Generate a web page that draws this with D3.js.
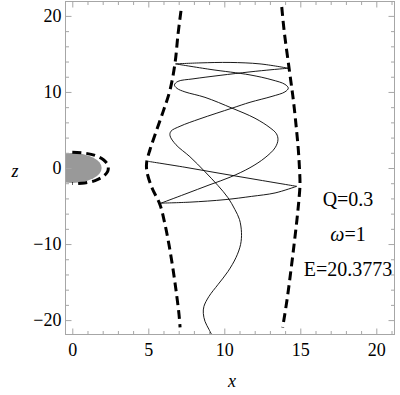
<!DOCTYPE html>
<html>
<head>
<meta charset="utf-8">
<script src="https://cdn.jsdelivr.net/npm/d3@7"></script>
<style>
body { margin: 0; background: #fff; }
svg text { font-family: "Liberation Serif", "DejaVu Serif", serif; fill: #000; }
</style>
</head>
<body>
<div id="chart"></div>
<script>
// tick values
var xMajor = [0, 5, 10, 15, 20];
var xMinor = [1, 2, 3, 4, 6, 7, 8, 9, 11, 12, 13, 14, 16, 17, 18, 19, 21];
var zMajor = [-20, -10, 0, 10, 20];
var zMinor = [-18, -16, -14, -12, -8, -6, -4, -2, 2, 4, 6, 8, 12, 14, 16, 18];

// horizon (grey) radii, x and z
var horizonR = [1.93, 1.97];

// dashed closed curve around the horizon
var innerCurve = [[0.0, 2.07], [0.8, 1.96], [1.5, 1.65], [2.05, 1.08], [2.33, 0.45], [2.37, 0.0],
  [2.33, -0.45], [2.05, -1.08], [1.5, -1.65], [0.8, -1.96], [0.0, -2.05]];

// zero velocity curves
var leftCurve = [[7.15, 20.66], [6.95, 17.5], [6.76, 13.82], [6.43, 10.27], [5.97, 7.38], [5.51, 4.76],
  [5.11, 2.4], [4.89, 0.7], [4.91, -0.49], [5.24, -2.59], [5.77, -4.82], [6.1, -7.44], [6.36, -10.07],
  [6.63, -13.35], [6.86, -16.63], [7.02, -19.25], [7.09, -20.95]];
var rightCurve = [[13.78, 21.17], [13.93, 18.15], [14.26, 13.14], [14.54, 8.96], [14.75, 5.03],
  [14.87, 2.4], [14.95, -0.22], [14.98, -2.19], [14.91, -4.16], [14.78, -6.78], [14.59, -10.07],
  [14.39, -13.35], [14.13, -17.29], [13.84, -20.96]];

// particle orbit
var orbit = [[5.0, 0.87], [7.41, 0.1], [9.85, -0.75], [12.35, -1.6], [14.76, -2.41],
  [13.34, -3.28], [11.8, -3.73], [10.05, -4.16], [7.74, -4.49], [5.84, -4.62],
  [7.41, -3.44], [9.06, -2.19], [10.38, -1.21], [11.69, 0.04], [12.68, 1.35], [13.34, 2.66],
  [13.53, 3.71], [13.43, 4.5], [13.01, 5.29], [12.02, 6.54], [10.51, 7.87], [8.73, 9.29],
  [7.41, 10.01], [6.89, 10.47], [6.72, 10.93], [6.95, 11.39], [7.94, 11.72], [9.72, 12.18],
  [11.69, 12.64], [13.14, 12.93], [14.21, 13.12],
  [12.35, 13.69], [10.38, 13.88], [8.4, 13.82], [6.79, 13.69],
  [9.06, 12.97], [11.69, 12.24], [13.14, 11.59], [13.99, 11.0], [14.21, 10.5], [13.99, 10.01],
  [13.14, 9.42], [11.69, 8.64], [10.51, 7.87], [8.4, 6.47], [7.09, 5.49], [6.49, 4.83],
  [6.43, 4.24], [6.82, 3.06], [7.74, 1.48], [8.73, -0.49], [9.59, -2.32], [10.24, -3.9],
  [10.7, -5.47], [11.0, -6.78], [11.13, -8.49], [11.07, -10.07], [10.77, -11.77], [10.24, -13.61],
  [9.59, -15.31], [8.99, -16.89], [8.66, -18.2], [8.62, -19.12], [8.73, -20.17], [8.99, -21.22],
  [9.26, -22.27]];
var orbitCusps = [4, 9, 30, 34];

var labels = ["Q=0.3", "\u03c9=1", "E=20.3773"];

var width = 400, height = 395;
var pLeft = 65, pRight = 395, pTop = 1, pBottom = 335;

var svg = d3.select("#chart").append("svg")
    .attr("width", width)
    .attr("height", height);

var x = d3.scaleLinear().domain([-0.48, 21.23]).range([pLeft, pRight]);
var y = d3.scaleLinear().domain([-21.96, 21.96]).range([pBottom, pTop]);

svg.append("clipPath").attr("id", "clip")
  .append("rect")
    .attr("x", pLeft).attr("y", pTop)
    .attr("width", pRight - pLeft).attr("height", pBottom - pTop);

var plot = svg.append("g").attr("clip-path", "url(#clip)");

// grey horizon
plot.append("ellipse")
    .attr("cx", x(0)).attr("cy", y(0))
    .attr("rx", x(horizonR[0]) - x(0))
    .attr("ry", y(0) - y(horizonR[1]))
    .attr("fill", "#999999");

var line = d3.line()
    .x(function (d) { return x(d[0]); })
    .y(function (d) { return y(d[1]); })
    .curve(d3.curveCatmullRom.alpha(0.5));

function dashed(data) {
  plot.append("path")
      .attr("d", line(data))
      .attr("fill", "none")
      .attr("stroke", "#000")
      .attr("stroke-width", 3)
      .attr("stroke-dasharray", "9,5");
}
dashed(innerCurve);
dashed(leftCurve);
dashed(rightCurve);

// orbit, split at the turning points
var cuts = [0].concat(orbitCusps, [orbit.length - 1]);
for (var i = 0; i < cuts.length - 1; i++) {
  plot.append("path")
      .attr("d", line(orbit.slice(cuts[i], cuts[i + 1] + 1)))
      .attr("fill", "none")
      .attr("stroke", "#000")
      .attr("stroke-width", 0.9);
}

// frame
svg.append("rect")
    .attr("x", pLeft + 0.5).attr("y", pTop + 0.5)
    .attr("width", pRight - pLeft - 1).attr("height", pBottom - pTop - 1)
    .attr("fill", "none")
    .attr("stroke", "#a6a6a6");

function ticks(axis, tx, ty, vals, size, pad, showLabels) {
  var g = svg.append("g")
      .attr("transform", "translate(" + tx + "," + ty + ")")
      .call(axis.tickValues(vals).tickSize(-size).tickPadding(pad)
        .tickFormat(showLabels ? function (d) { return d < 0 ? "\u2212" + Math.abs(d) : d; } : ""));
  g.select(".domain").remove();
  g.selectAll(".tick line").attr("stroke", "#a6a6a6");
  g.selectAll("text")
      .style("font-size", "18px")
      .style("font-family", "'Liberation Serif', serif")
      .attr("fill", "#000");
  return g;
}

ticks(d3.axisBottom(x), 0, pBottom - 0.5, xMajor, 6, 9, true);
ticks(d3.axisBottom(x), 0, pBottom - 0.5, xMinor, 3.5, 9, false);
ticks(d3.axisTop(x), 0, pTop + 0.5, xMajor, 6, 3, false);
ticks(d3.axisTop(x), 0, pTop + 0.5, xMinor, 3.5, 3, false);
ticks(d3.axisLeft(y), pLeft + 0.5, 0, zMajor, 6, 4, true);
ticks(d3.axisLeft(y), pLeft + 0.5, 0, zMinor, 3.5, 4, false);
ticks(d3.axisRight(y), pRight - 0.5, 0, zMajor, 6, 3, false);
ticks(d3.axisRight(y), pRight - 0.5, 0, zMinor, 3.5, 3, false);

// axis labels
svg.append("text")
    .attr("x", 232).attr("y", 387)
    .attr("text-anchor", "middle")
    .style("font-size", "18px").style("font-style", "italic")
    .text("x");
svg.append("text")
    .attr("x", 15).attr("y", 177)
    .attr("text-anchor", "middle")
    .style("font-size", "18px").style("font-style", "italic")
    .text("z");

// parameters
var ann = svg.append("g").attr("text-anchor", "middle").style("font-size", "20px");
ann.append("text").attr("x", 348).attr("y", 205.5).text(labels[0]);
var w = ann.append("text").attr("x", 348).attr("y", 241);
w.append("tspan").style("font-style", "italic").text(labels[1].charAt(0));
w.append("tspan").text(labels[1].slice(1));
ann.append("text").attr("x", 348).attr("y", 276).text(labels[2]);
</script>
</body>
</html>
